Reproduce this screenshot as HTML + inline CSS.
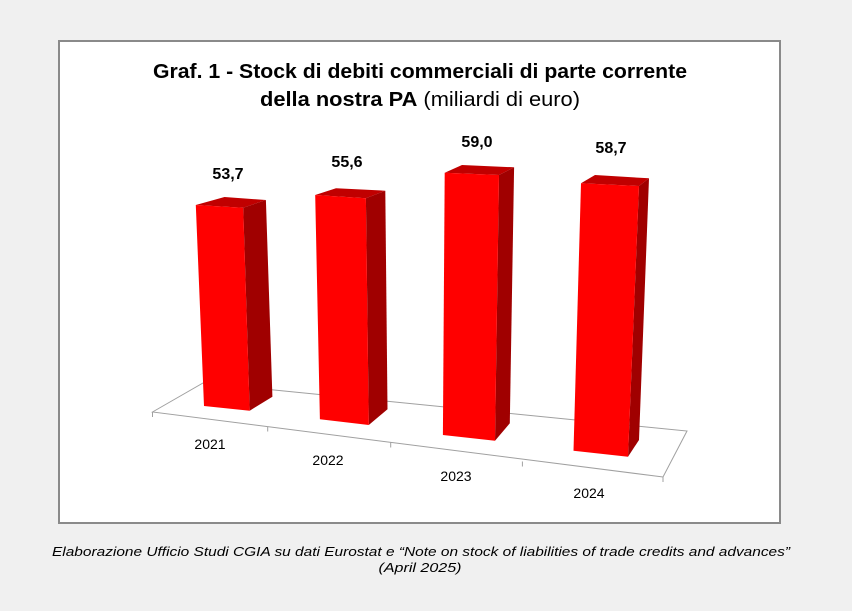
<!DOCTYPE html>
<html><head><meta charset="utf-8"><style>
html,body{margin:0;padding:0;background:#f0f0f0;}
svg{display:block;}
text{font-family:"Liberation Sans",sans-serif;}
</style></head><body>
<svg width="852" height="611" viewBox="0 0 852 611" xmlns="http://www.w3.org/2000/svg">
<rect x="0" y="0" width="852" height="611" fill="#f0f0f0"/>
<rect x="59" y="41" width="721" height="482" fill="#fff" stroke="#8a8a8a" stroke-width="2"/>
<text x="420" y="78" text-anchor="middle" font-size="20" font-weight="bold" textLength="534" lengthAdjust="spacingAndGlyphs">Graf.  1 - Stock di debiti commerciali di parte corrente</text>
<text x="260" y="106" font-size="20" textLength="320" lengthAdjust="spacingAndGlyphs"><tspan font-weight="bold">della nostra PA</tspan> (miliardi di euro)</text>
<g stroke="#a0a0a0" stroke-width="1" fill="none">
<polygon points="152.5,412 203,383 687,431 663,477"/>
<line x1="152.5" y1="412" x2="152.5" y2="417"/>
<line x1="267.7" y1="426.5" x2="267.7" y2="431.5"/>
<line x1="390.7" y1="442.5" x2="390.7" y2="447.5"/>
<line x1="522.4" y1="461.5" x2="522.4" y2="466.5"/>
<line x1="663" y1="477" x2="663" y2="482"/>
</g>
<g>
<polygon points="195.8,205 224.5,197 265.9,200 243.2,207.7" fill="#c00000"/>
<polygon points="243.2,207.7 265.9,200 272.4,396.7 249.7,410.7" fill="#a00000"/>
<polygon points="195.8,205 243.2,207.7 249.7,410.7 204,406" fill="#ff0000"/>

<polygon points="315.2,195 336,188.3 385.3,190.7 365.9,198.3" fill="#c00000"/>
<polygon points="365.9,198.3 385.3,190.7 387.5,409.3 368.8,425" fill="#a00000"/>
<polygon points="315.2,195 365.9,198.3 368.8,425 319.9,419.3" fill="#ff0000"/>

<polygon points="444.7,172.7 462,165 514.1,167.3 499,175" fill="#c00000"/>
<polygon points="499,175 514.1,167.3 509.8,423.3 495,440.7" fill="#a00000"/>
<polygon points="444.7,172.7 499,175 495,440.7 442.9,435" fill="#ff0000"/>

<polygon points="581,183.3 595,175 649,178.3 639,186" fill="#c00000"/>
<polygon points="639,186 649,178.3 639,440 628,456.7" fill="#a00000"/>
<polygon points="581,183.3 639,186 628,456.7 573.5,450.7" fill="#ff0000"/>
</g>
<g font-size="16" font-weight="bold" text-anchor="middle" fill="#000">
<text x="228" y="179">53,7</text>
<text x="347" y="167">55,6</text>
<text x="477" y="147">59,0</text>
<text x="611" y="153">58,7</text>
</g>
<g font-size="14" text-anchor="middle" fill="#000">
<text x="210" y="449">2021</text>
<text x="328" y="465">2022</text>
<text x="456" y="481">2023</text>
<text x="589" y="498">2024</text>
</g>
<g font-size="13" font-style="italic" text-anchor="middle" fill="#000">
<text x="421" y="556" textLength="738" lengthAdjust="spacingAndGlyphs">Elaborazione Ufficio Studi CGIA su dati Eurostat e “Note on stock of liabilities of trade credits and advances”</text>
<text x="420" y="572" textLength="83" lengthAdjust="spacingAndGlyphs">(April 2025)</text>
</g>
</svg>
</body></html>
